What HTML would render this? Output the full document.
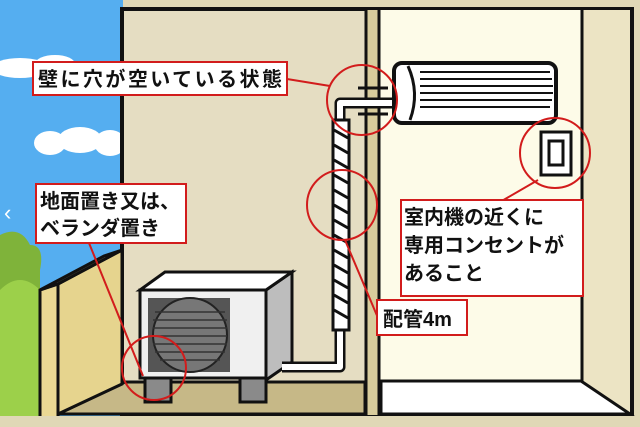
<!DOCTYPE html>
<html><head><meta charset="utf-8"><style>
html,body{margin:0;padding:0;width:640px;height:427px;overflow:hidden;background:#e3dcbf}
svg{display:block}
text{font-family:"Liberation Sans","Noto Sans CJK JP",sans-serif;font-weight:bold;font-size:20px;fill:#111}
</style></head><body>
<svg width="640" height="427" viewBox="0 0 640 427" xmlns="http://www.w3.org/2000/svg">
<rect x="0" y="0" width="640" height="427" fill="#e0d8b6"/>
<rect x="0" y="0" width="123" height="427" fill="#55aef0"/>
<!-- clouds -->
<g fill="#fff">
<ellipse cx="20" cy="68" rx="28" ry="10"/><ellipse cx="55" cy="64" rx="20" ry="9"/>
<ellipse cx="50" cy="143" rx="16" ry="12"/><ellipse cx="80" cy="140" rx="22" ry="13"/><ellipse cx="110" cy="143" rx="16" ry="13"/>
</g>
<!-- bushes -->
<path d="M0 235 Q20 225 30 245 Q45 245 40 270 L40 427 L0 427 Z" fill="#7fb33a"/>
<path d="M0 290 Q20 270 40 290 L40 427 L0 427Z" fill="#9cd04a"/>
<text x="4" y="220" style="fill:#fff;font-size:22px;font-weight:normal">‹</text>
<!-- walls -->
<rect x="122" y="9" width="510" height="408" fill="#e5ddc2" stroke="#111" stroke-width="4"/>
<rect x="380" y="10" width="202" height="372" fill="#fdfbe8"/>
<rect x="582" y="10" width="48" height="405" fill="#ece4c4"/>
<line x1="582" y1="10" x2="582" y2="382" stroke="#111" stroke-width="3"/>
<rect x="366" y="10" width="12" height="405" fill="#d8cc9c"/>
<line x1="366" y1="10" x2="366" y2="415" stroke="#111" stroke-width="3"/>
<line x1="379" y1="10" x2="379" y2="415" stroke="#111" stroke-width="3"/>
<!-- room floor -->
<polygon points="381,381 581,381 630,414 381,414" fill="#fff" stroke="#111" stroke-width="3"/>
<!-- balcony floor -->
<polygon points="58,414 125,382 365,382 365,414" fill="#c6b887" stroke="#111" stroke-width="3"/>
<!-- balcony wall -->
<polygon points="58,284 122,250 122,384 58,414" fill="#e6d48e" stroke="#111" stroke-width="3"/>
<polygon points="40,290 58,284 58,418 40,418" fill="#ead893" stroke="#111" stroke-width="3"/>
<polygon points="40,290 104,256 122,250 58,284" fill="#efe0a0" stroke="#111" stroke-width="3"/>
<rect x="0" y="416" width="640" height="11" fill="#e0d8b6"/>
<!-- outdoor unit -->
<rect x="145" y="370" width="26" height="32" fill="#8a8a8a" stroke="#111" stroke-width="3"/>
<rect x="240" y="370" width="26" height="32" fill="#8a8a8a" stroke="#111" stroke-width="3"/>
<polygon points="266,380 292,362 292,272 266,290" fill="#bdbdbd" stroke="#111" stroke-width="3"/>
<polygon points="140,290 165,272 292,272 266,290" fill="#fff" stroke="#111" stroke-width="3"/>
<rect x="140" y="290" width="126" height="88" fill="#f0f0f0" stroke="#111" stroke-width="3"/>
<rect x="148" y="298" width="82" height="74" fill="#555"/>
<circle cx="190" cy="335" r="37" fill="#777" stroke="#222" stroke-width="2"/>
<g stroke="#333" stroke-width="1.5">
<line x1="155" y1="312" x2="225" y2="312"/><line x1="153" y1="320" x2="227" y2="320"/><line x1="153" y1="328" x2="227" y2="328"/><line x1="153" y1="336" x2="227" y2="336"/><line x1="153" y1="344" x2="227" y2="344"/><line x1="155" y1="352" x2="225" y2="352"/><line x1="160" y1="360" x2="220" y2="360"/>
</g>
<!-- pipe -->
<path d="M282 367 L340 367 L340 103 L395 103" fill="none" stroke="#111" stroke-width="11" stroke-linejoin="round"/>
<path d="M282 367 L340 367 L340 103 L395 103" fill="none" stroke="#fff" stroke-width="6" stroke-linejoin="round"/>
<rect x="333" y="120" width="16" height="210" fill="#fff" stroke="#111" stroke-width="3"/>
<g stroke="#111" stroke-width="3">
<line x1="334" y1="130" x2="348" y2="138"/><line x1="334" y1="145" x2="348" y2="153"/><line x1="334" y1="160" x2="348" y2="168"/><line x1="334" y1="175" x2="348" y2="183"/><line x1="334" y1="190" x2="348" y2="198"/><line x1="334" y1="205" x2="348" y2="213"/><line x1="334" y1="220" x2="348" y2="228"/><line x1="334" y1="235" x2="348" y2="243"/><line x1="334" y1="250" x2="348" y2="258"/><line x1="334" y1="265" x2="348" y2="273"/><line x1="334" y1="280" x2="348" y2="288"/><line x1="334" y1="295" x2="348" y2="303"/><line x1="334" y1="310" x2="348" y2="318"/>
</g>
<line x1="358" y1="88" x2="388" y2="88" stroke="#111" stroke-width="3"/>
<line x1="358" y1="114" x2="388" y2="114" stroke="#111" stroke-width="3"/>
<!-- indoor unit -->
<rect x="394" y="63" width="162" height="60" rx="8" fill="#fff" stroke="#111" stroke-width="4"/>
<g stroke="#111" stroke-width="2">
<line x1="420" y1="72" x2="550" y2="72"/><line x1="420" y1="79" x2="552" y2="79"/><line x1="420" y1="86" x2="553" y2="86"/><line x1="420" y1="93" x2="553" y2="93"/><line x1="420" y1="100" x2="552" y2="100"/><line x1="420" y1="107" x2="550" y2="107"/>
<path d="M408 66 Q420 93 410 120" fill="none" stroke-width="3"/>
</g>
<!-- outlet -->
<rect x="541" y="132" width="30" height="43" fill="#fff" stroke="#111" stroke-width="3"/>
<rect x="549" y="141" width="14" height="24" fill="#fff" stroke="#111" stroke-width="3"/>
<!-- red circles + lines -->
<g fill="none" stroke="#d21c1c" stroke-width="2">
<circle cx="362" cy="100" r="35"/><circle cx="342" cy="205" r="35"/><circle cx="555" cy="153" r="35"/><circle cx="154" cy="368" r="32"/>
<line x1="287" y1="79" x2="330" y2="86"/>
<line x1="89" y1="243" x2="143" y2="376"/>
<line x1="345" y1="240" x2="378" y2="318"/>
<line x1="538" y1="180" x2="500" y2="202"/>
</g>
<!-- labels -->
<g fill="#fff" stroke="#d21c1c" stroke-width="2">
<rect x="33" y="62" width="254" height="33"/>
<rect x="36" y="184" width="150" height="59"/>
<rect x="401" y="200" width="182" height="96"/>
<rect x="377" y="300" width="90" height="35"/>
</g>
<text x="38" y="86" textLength="244">壁に穴が空いている状態</text>
<text x="40" y="208">地面置き又は、</text>
<text x="40" y="235">ベランダ置き</text>
<text x="404" y="224">室内機の近くに</text>
<text x="404" y="252">専用コンセントが</text>
<text x="404" y="280">あること</text>
<text x="383" y="326">配管4m</text>
</svg>
</body></html>
